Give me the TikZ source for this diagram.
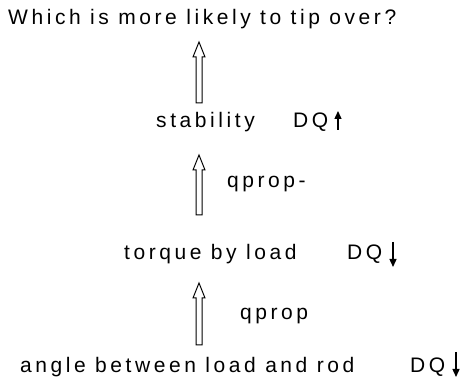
\documentclass[tikz,border=0pt]{standalone}
\usepackage{fontspec}
\setmainfont{Liberation Sans}[LetterSpace=17]
\usetikzlibrary{calc,arrows.meta}

% hollow block arrow from #1 (tail) up to #2 (tip)
\newcommand\hollowup[2]{%
  \draw[hollow] ($(#1)+(-3,0)$) -- ($(#2)+(-3,-15)$) -- ($(#2)+(-6,-15)$)
    -- (#2) -- ($(#2)+(6,-15)$) -- ($(#2)+(3,-15)$) -- ($(#1)+(3,0)$) -- cycle;}

\begin{document}
\begin{tikzpicture}[x=1pt,y=1pt,
  lbl/.style={anchor=base west, inner sep=0pt, font=\fontsize{21}{24}\selectfont},
  hollow/.style={line width=1pt, line join=miter},
  dq/.style={-{Triangle[length=8pt,width=7pt]}, line width=1.4pt}]
\useasboundingbox (0,0) rectangle (462,379);

% labels
\node[lbl] (goal)   at (8,354)   {Which is more likely to tip over?};
\node[lbl] (stab)   at (156,251) {stability};
\node[lbl] (stabdq) at (293,251) {DQ};
\node[lbl] (qpm)    at (227,191) {qprop-};
\node[lbl] (torq)   at (124,119) {torque by load};
\node[lbl] (torqdq) at (347,119) {DQ};
\node[lbl] (qp)     at (240,59)  {qprop};
\node[lbl] (ang)    at (20,6)    {angle between load and rod};
\node[lbl] (angdq)  at (410,6)   {DQ};

% ends of the block arrows
\coordinate (a1t) at (199,276); \coordinate (a1h) at (199,337);
\coordinate (a2t) at (199,164); \coordinate (a2h) at (199,224);
\coordinate (a3t) at (199,34);  \coordinate (a3h) at (199,96);
\hollowup{a1t}{a1h}
\hollowup{a2t}{a2h}
\hollowup{a3t}{a3h}

% direction-of-change arrows
\coordinate (d1t) at (338,249); \coordinate (d1h) at (338,268);
\coordinate (d2t) at (393,137); \coordinate (d2h) at (393,112);
\coordinate (d3t) at (456,27);  \coordinate (d3h) at (456,2);
\draw[dq] (d1t) -- (d1h);
\draw[dq] (d2t) -- (d2h);
\draw[dq] (d3t) -- (d3h);
\end{tikzpicture}
\end{document}
